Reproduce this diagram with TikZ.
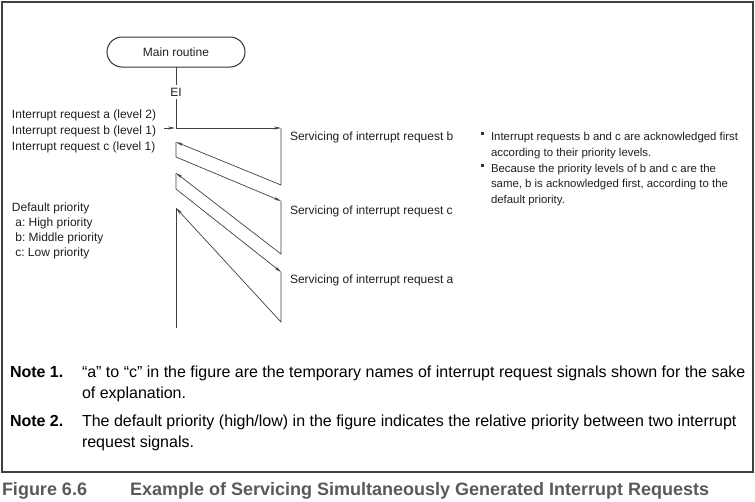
\documentclass[tikz,border=0pt]{standalone}
\usepackage{fontspec}
\setmainfont{Liberation Sans}
\usetikzlibrary{arrows.meta, positioning}

\begin{document}
\begin{tikzpicture}[x=1pt, y=-1pt,
    every node/.style={inner sep=0pt, outer sep=0pt, text=black!88},
    flow/.style={draw=black!75, line width=0.7pt},
    tip/.style={-{Stealth[length=7pt, width=3pt]}},
    lbl/.style={anchor=base west, font=\fontsize{12}{16}\selectfont},
    side/.style={anchor=base west, align=left, font=\fontsize{11.4}{15.5}\selectfont},
    note/.style={anchor=base west, align=left, font=\fontsize{16}{21}\selectfont, text=black}]
  \useasboundingbox (0,0) rectangle (755,501);
  \draw[line width=1.3pt, black!75] (2,2) rectangle (753,472);

  % main routine and EI
  \node[draw=black!80, line width=1pt, rounded corners=15pt, minimum width=138pt,
        minimum height=30pt, font=\fontsize{12}{14}\selectfont] (main) at (176,52) {Main routine};
  \node[font=\fontsize{12}{14}\selectfont, inner ysep=3pt] (ei) at (176,92) {EI};

  % corners of the servicing path
  \coordinate (b0) at (176,128);
  \coordinate (b1) at (281,128);
  \coordinate (b2) at (281,185);
  \coordinate (c0) at (176,142);
  \coordinate (c1) at (176,157);
  \coordinate (c2) at (281,201);
  \coordinate (c3) at (281,254);
  \coordinate (a0) at (176,173);
  \coordinate (a1) at (176,189);
  \coordinate (a2) at (281,272);
  \coordinate (a3) at (281,322);
  \coordinate (m0) at (176,208);
  \coordinate (m1) at (176,328);

  \draw[flow] (main.south) -- (ei.north);
  \draw[flow, tip] (ei.south) -- (b0) -- (b1);
  \draw[flow, tip] (b1) -- (b2) -- (c0);
  \draw[flow, tip] (c0) -- (c1) -- (c2);
  \draw[flow, tip] (c2) -- (c3) -- (a0);
  \draw[flow, tip] (a0) -- (a1) -- (a2);
  \draw[flow, tip] (a2) -- (a3) -- (m0);
  \draw[flow] (m0) -- (m1);

  % requests
  \node[lbl] (reqa) at (12,118) {Interrupt request a (level 2)};
  \node[lbl] (reqb) at (12,134) {Interrupt request b (level 1)};
  \node[lbl] (reqc) at (12,150) {Interrupt request c (level 1)};
  \coordinate (bin) at (175,128);
  \draw[flow, tip] (reqb.east |- bin) ++(8,0) -- (bin);

  \node[lbl, align=left] (prio) at (12,256) {Default priority\\[-1.3pt]
    \ a:\ High priority\\[-1.3pt]
    \ b:\ Middle priority\\[-1.3pt]
    \ c:\ Low priority};

  % servicing
  \node[lbl] (srvb) at (290,140) {Servicing of interrupt request b};
  \node[lbl] (srvc) at (290,214) {Servicing of interrupt request c};
  \node[lbl] (srva) at (290,283) {Servicing of interrupt request a};

  % remarks
  \fill[black!80] (481,135) rectangle +(3,-3);
  \node[side] (rem1) at (491,156) {Interrupt requests b and c are acknowledged first\\
    according to their priority levels.};
  \fill[black!80] (481,167) rectangle +(3,-3);
  \node[side] (rem2) at (491,203) {Because the priority levels of b and c are the\\
    same, b is acknowledged first, according to the\\
    default priority.};

  % notes
  \node[note, font=\fontsize{16}{21}\bfseries] (n1) at (10,377) {Note 1.};
  \node[note] (n1t) at (82,398) {``a'' to ``c'' in the figure are the temporary names of interrupt request signals shown for the sake\\
    of explanation.};
  \node[note, font=\fontsize{16}{21}\bfseries] (n2) at (10,426) {Note 2.};
  \node[note] (n2t) at (82,447) {The default priority (high/low) in the figure indicates the relative priority between two interrupt\\
    request signals.};

  % caption
  \node[anchor=base west, font=\fontsize{18}{20}\bfseries, text=black!65] (fig) at (2,495) {Figure 6.6};
  \node[anchor=base west, font=\fontsize{18}{20}\bfseries, text=black!65] (cap) at (130,495)
    {Example of Servicing Simultaneously Generated Interrupt Requests};
\end{tikzpicture}
\end{document}
